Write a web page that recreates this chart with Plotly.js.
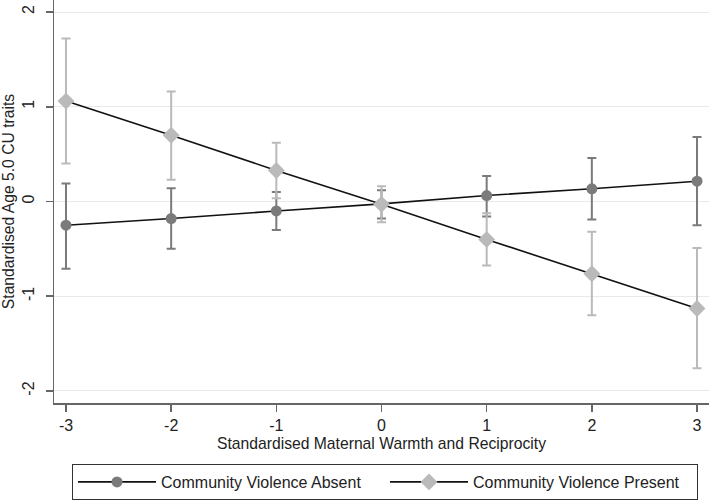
<!DOCTYPE html>
<html>
<head>
<meta charset="utf-8">
<script src="https://cdn.plot.ly/plotly-3.0.1.min.js"></script>
<style>html,body{margin:0;padding:0;background:#fff;}#chart{width:709px;height:500px;}</style>
</head>
<body>
<div id="chart"></div>
<script>
const xValues = [-3, -2, -1, 0, 1, 2, 3];
const absentEst = [-0.25, -0.18, -0.10, -0.025, 0.063, 0.134, 0.214];
const absentUpper = [0.19, 0.14, 0.10, 0.12, 0.27, 0.46, 0.68];
const absentLower = [-0.71, -0.50, -0.30, -0.18, -0.158, -0.19, -0.25];
const presentEst = [1.06, 0.70, 0.327, -0.03, -0.40, -0.763, -1.13];
const presentUpper = [1.72, 1.16, 0.62, 0.16, -0.125, -0.32, -0.49];
const presentLower = [0.40, 0.23, 0.035, -0.22, -0.675, -1.20, -1.76];
const seriesNames = ["Community Violence Absent", "Community Violence Present"];
const xTicks = [-3, -2, -1, 0, 1, 2, 3];
const yTicks = [-2, -1, 0, 1, 2];

function diff(a, b) { return a.map((v, i) => v - b[i]); }

const FONT = "Liberation Sans, Arial, sans-serif";
const cAbsent = "#7b7b7b";
const cPresent = "#bababa";

const traces = [
  {
    x: xValues, y: absentEst, name: seriesNames[0], type: "scatter", mode: "lines+markers",
    line: {color: "#111", width: 1.6},
    marker: {color: cAbsent, size: 11, symbol: "circle"},
    error_y: {type: "data", symmetric: false, array: diff(absentUpper, absentEst), arrayminus: diff(absentEst, absentLower), color: cAbsent, thickness: 2, width: 4.5}
  },
  {
    x: xValues, y: presentEst, name: seriesNames[1], type: "scatter", mode: "lines+markers",
    line: {color: "#111", width: 1.6},
    marker: {color: cPresent, size: 13, symbol: "diamond"},
    error_y: {type: "data", symmetric: false, array: diff(presentUpper, presentEst), arrayminus: diff(presentEst, presentLower), color: cPresent, thickness: 2, width: 4.5}
  }
];

const layout = {
  width: 709, height: 500,
  margin: {l: 54, r: 0, t: 0, b: 97, pad: 0},
  paper_bgcolor: "#fff", plot_bgcolor: "#fff",
  font: {family: FONT, size: 15, color: "#222"},
  showlegend: true,
  xaxis: {
    range: [-3.114, 3.114], tickvals: xTicks, ticktext: xTicks.map(String),
    showgrid: false, zeroline: false, showline: true, linecolor: "#666", linewidth: 1.5,
    ticks: "outside", ticklen: 7, tickwidth: 1.5, tickcolor: "#666",
    tickfont: {family: FONT, size: 16, color: "#222"},
    title: {text: "Standardised Maternal Warmth and Reciprocity", font: {family: FONT, size: 15.7, color: "#222"}, standoff: 5}
  },
  yaxis: {
    range: [-2.127, 2.127], tickvals: yTicks, ticktext: yTicks.map(String), tickangle: -90,
    showgrid: true, gridcolor: "#e9e9e9", gridwidth: 1, zeroline: false,
    showline: true, linecolor: "#666", linewidth: 1.5,
    ticks: "outside", ticklen: 7, tickwidth: 1.5, tickcolor: "#666",
    ticklabelstandoff: 5,
    tickfont: {family: FONT, size: 16, color: "#222"},
    title: {text: "Standardised Age 5.0 CU traits", font: {family: FONT, size: 15.7, color: "#222"}, standoff: 2}
  },
  legend: {
    orientation: "h", xref: "container", yref: "container",
    x: 0.1016, xanchor: "left", y: 0.072, yanchor: "top",
    bordercolor: "#333", borderwidth: 1, bgcolor: "#fff",
    font: {family: FONT, size: 16, color: "#222"},
    entrywidth: 219, entrywidthmode: "pixels", itemwidth: 78
  }
};

Plotly.newPlot("chart", traces, layout, {displayModeBar: false, staticPlot: true});
</script>
</body>
</html>
